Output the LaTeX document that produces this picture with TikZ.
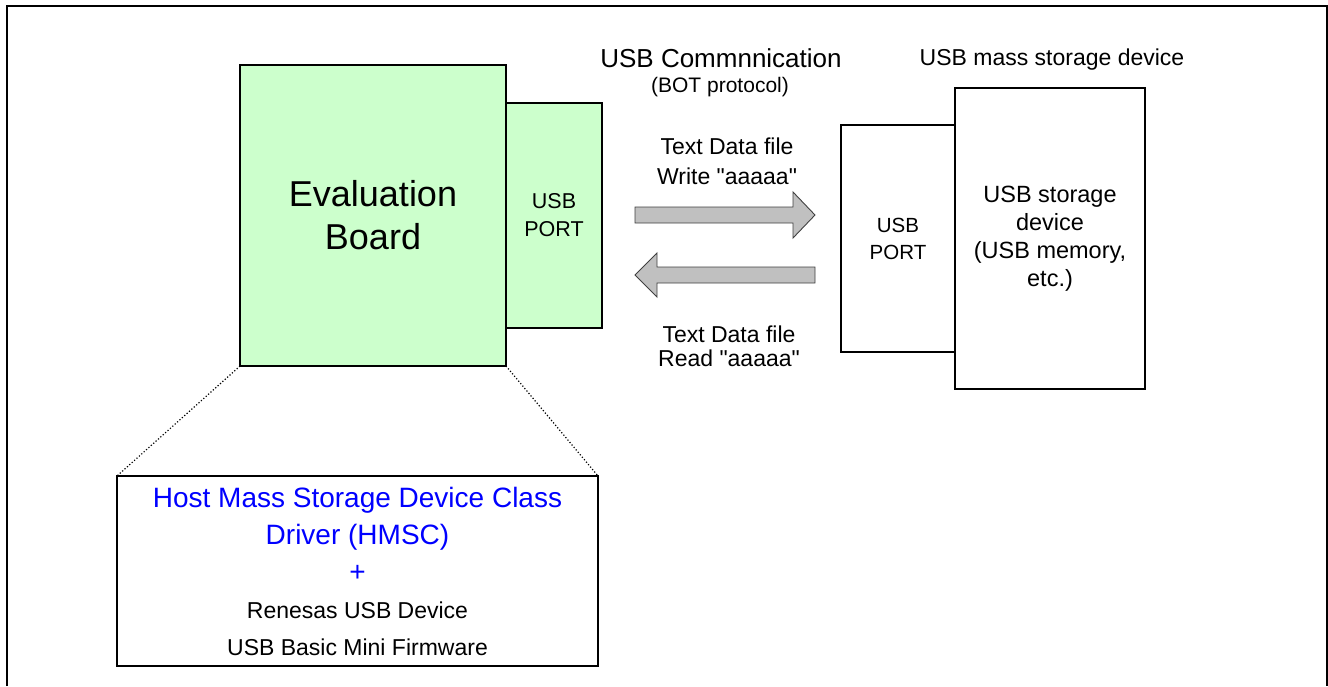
\documentclass[tikz,border=0pt]{standalone}
\usepackage{fontspec}
\setmainfont{Liberation Sans}
\newfontfamily\quotefont{Liberation Sans}
\usetikzlibrary{positioning}
\definecolor{boardgreen}{HTML}{CCFFCC}
\definecolor{arrowgray}{HTML}{C0C0C0}
\definecolor{hmscblue}{HTML}{0000FF}
\newcommand{\hmscfont}{\color{hmscblue}\fontsize{28}{37}\selectfont}
\newcommand{\dq}{{\quotefont\symbol{34}}}

\begin{document}
\begin{tikzpicture}[x=1pt,y=-1pt,
    greenbox/.style={rectangle,draw,fill=boardgreen,line width=2.6pt,align=center,inner sep=0pt,outer sep=0pt},
    whitebox/.style={rectangle,draw,fill=white,line width=1.8pt,align=center,inner sep=0pt,outer sep=0pt},
    blockarrow/.style={draw=black!75,fill=arrowgray,line width=0.9pt,line join=miter},
    label/.style={align=center,inner sep=0pt}]
\useasboundingbox (0,0) rectangle (1328,686);
% outer frame
\draw[line width=2pt] (6.5,686) -- (6.5,5.5) -- (1327,5.5) -- (1327,686);

% evaluation board
\node[greenbox,minimum width=266pt,minimum height=301pt,anchor=north west,
      font=\fontsize{36}{43}\selectfont] (board) at (240,65) {Evaluation\\Board};
\node[greenbox,minimum width=96pt,minimum height=225pt,right=0pt of board,
      font=\fontsize{21.5}{28}\selectfont] (bport) {USB\\PORT};

% usb mass storage device
\node[whitebox,minimum width=190pt,minimum height=301pt,anchor=north west,
      font=\fontsize{23.5}{28}\selectfont] (storage) at (955,88) {USB storage\\device\\(USB memory,\\etc.)};
\node[whitebox,minimum width=114pt,minimum height=227pt,left=0pt of storage,
      font=\fontsize{20.5}{27}\selectfont] (dport) {USB\\PORT};
\node[anchor=base,font=\fontsize{23}{27}\selectfont] (msdtitle) at (1052,65) {USB mass storage device};

% communication
\node[anchor=base,font=\fontsize{26}{30}\selectfont] (usbcomm) at (721,67) {USB Commnnication};
\node[anchor=base,font=\fontsize{21}{25}\selectfont] (bot) at (720,92) {(BOT protocol)};

\coordinate (wrtail) at (635,215);
\coordinate (rdtip) at (635,275);
\draw[blockarrow] (wrtail) ++(0,-8) -- ++(158,0) -- ++(0,-15) -- ++(22,23) -- ++(-22,23)
    -- ++(0,-15) -- ++(-158,0) -- cycle;
\draw[blockarrow] (rdtip) -- ++(22,-22) -- ++(0,14) -- ++(158,0) -- ++(0,16)
    -- ++(-158,0) -- ++(0,14) -- cycle;
\node[label,font=\fontsize{23}{30}\selectfont] (wrtext) at (727,161) {Text Data file\\Write \dq aaaaa\dq};
\node[label,font=\fontsize{23}{24}\selectfont] (rdtext) at (729,346) {Text Data file\\Read \dq aaaaa\dq};

% zoom on the firmware
\node[whitebox,minimum width=481pt,minimum height=190pt,anchor=north west,
      font=\fontsize{23}{37}\selectfont] (hmsc) at (117,476)
      {{\hmscfont Host Mass Storage Device Class}\\{\hmscfont Driver (HMSC)}\\{\hmscfont +}\\
       Renesas USB Device\\USB Basic Mini Firmware};
\draw[dotted,line width=1.2pt] (board.south west) -- (hmsc.north west);
\draw[dotted,line width=1.2pt] (board.south east) -- (hmsc.north east);
\end{tikzpicture}
\end{document}
